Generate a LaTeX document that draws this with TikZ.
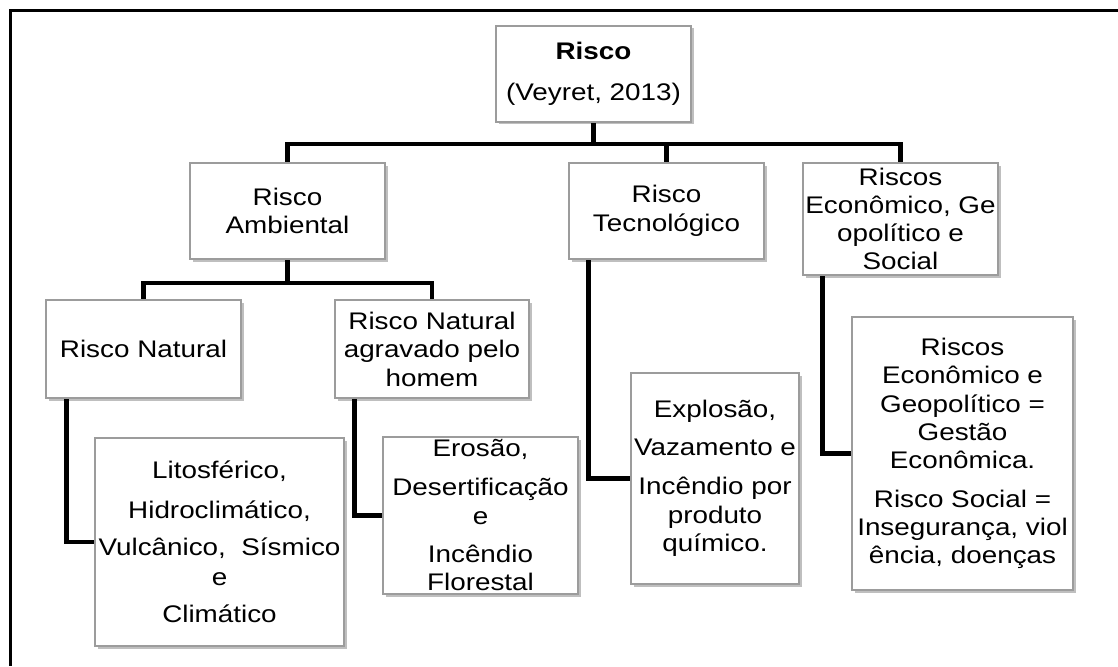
\documentclass[tikz,border=0pt]{standalone}
\usepackage{fontspec}
\setmainfont[FakeStretch=1.16]{Liberation Sans}
\usetikzlibrary{shadows,backgrounds}
\definecolor{boxline}{HTML}{9C9C9C}
\begin{document}
\begin{tikzpicture}[x=1pt,y=-1pt,
  box/.style={draw=boxline,line width=1.3pt,fill=white,inner sep=0pt,
    align=center,font=\fontsize{24}{28.5}\selectfont,
    drop shadow={shadow xshift=2.5pt,shadow yshift=-2.5pt,fill=black,opacity=0.25}},
  link/.style={line width=4.6pt,line join=miter}]
\useasboundingbox (0,0) rectangle (1118,666);
% frame
\draw[line width=3pt] (1118,11) -| (10,666);
% boxes
\node[box,minimum width=195pt,minimum height=96pt] (risco) at (593.5,74)
  {\textbf{Risco}\\[12pt](Veyret, 2013)};
\node[box,minimum width=195pt,minimum height=96pt] (amb) at (287.5,211)
  {Risco\\Ambiental};
\node[box,minimum width=195pt,minimum height=96pt] (tec) at (666.5,211)
  {Risco\\Tecnológico};
\node[box,minimum width=195pt,minimum height=112pt,font=\fontsize{24}{28}\selectfont] (eco) at (900.5,219)
  {Riscos\\Econômico, Ge\\opolítico e\\Social};
\node[box,minimum width=195pt,minimum height=98pt] (nat) at (143.5,349)
  {Risco Natural};
\node[box,minimum width=194pt,minimum height=98pt] (agr) at (432,349)
  {Risco Natural\\agravado pelo\\homem};
\node[box,minimum width=249pt,minimum height=208pt] (lit) at (219.5,542)
  {Litosférico,\\[11pt]Hidroclimático,\\[9pt]Vulcânico,\ \ Sísmico\\[1pt]e\\[9pt]Climático};
\node[box,minimum width=195pt,minimum height=157pt] (ero) at (480.5,515.5)
  {Erosão,\\[10pt]Desertificação\\[1pt]e\\[9pt]Incêndio\\Florestal};
\node[box,minimum width=168pt,minimum height=211pt] (exp) at (715,478.5)
  {Explosão,\\[9pt]Vazamento e\\[11pt]Incêndio por\\produto\\químico.};
\node[box,minimum width=221pt,minimum height=273pt,font=\fontsize{24}{28.3}\selectfont] (eco2) at (962.5,453.5)
  {Riscos\\Econômico e\\Geopolítico =\\Gestão\\Econômica.\\[10pt]Risco Social =\\Insegurança, viol\\ência, doenças};
% connectors
\begin{scope}[on background layer]
\coordinate (bar1) at (0,144);
\coordinate (bar2) at (0,283);
\draw[link] (risco.south) |- (amb.north |- bar1) -- (amb.north);
\draw[link] (risco.south) |- (tec.north |- bar1) -- (tec.north);
\draw[link] (risco.south) |- (eco.north |- bar1) -- (eco.north);
\draw[link] (amb.south) |- (nat.north |- bar2) -- (nat.north);
\draw[link] (amb.south) |- (agr.north |- bar2) -- (agr.north);
\draw[link] ([xshift=21pt]nat.south west) |- (lit.west);
\draw[link] ([xshift=20pt]agr.south west) |- (ero.west);
\draw[link] ([xshift=20pt]tec.south west) |- (exp.west);
\draw[link] ([xshift=20pt]eco.south west) |- (eco2.west);
\end{scope}
\end{tikzpicture}
\end{document}
